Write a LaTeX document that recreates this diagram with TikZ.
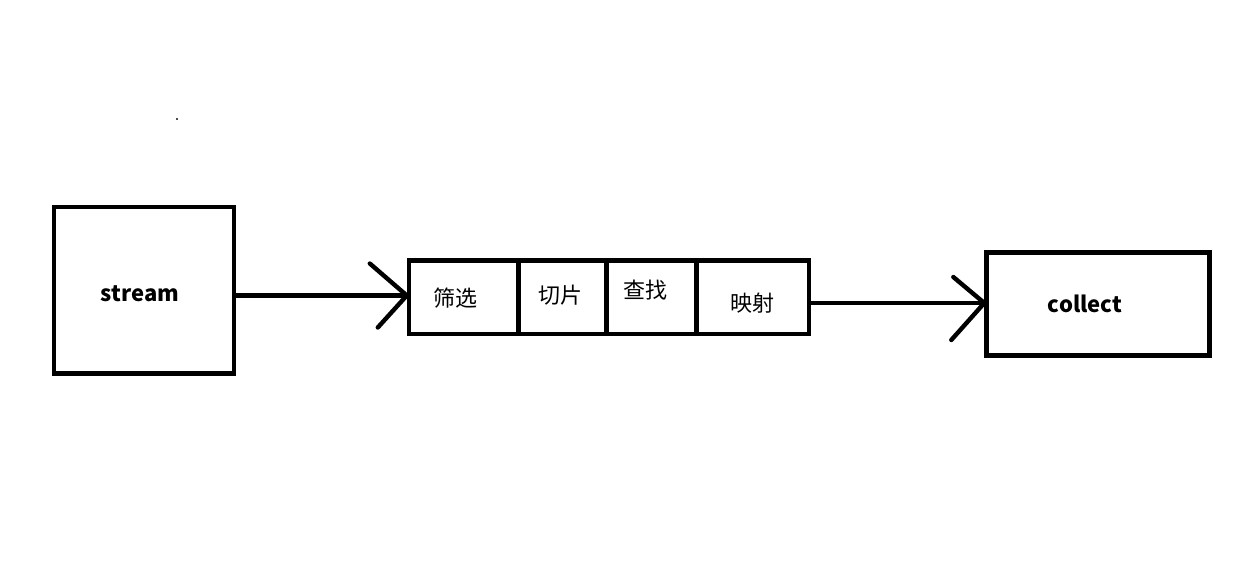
\documentclass[tikz,border=0pt]{standalone}
\usepackage{fontspec}
\newfontfamily\cjk{Noto Sans CJK SC}
\begin{document}
\begin{tikzpicture}[x=1pt,y=-1pt,
  box/.style={draw=black,line width=4.4pt,inner sep=0pt,fill=none},
  lbl/.style={font=\cjk\bfseries\fontsize{22}{25}\selectfont,inner sep=0pt},
  zh/.style={font=\cjk\fontsize{22}{25}\selectfont,inner sep=0pt},
  conn/.style={line width=4.4pt,line cap=round,line join=round}]
\useasboundingbox (0,0) rectangle (1250,583);
\fill[black!70] (176,118) rectangle (178,120);
% stream box
\node[box,minimum width=180pt,minimum height=166.5pt] (stream) at (144,290.25) {};
\node[lbl] (tstream) at (140,294) {stream};
% chain cells
\node[box,minimum width=109.5pt,minimum height=73.5pt] (c1) at (463.75,297.25) {};
\node[box,minimum width=88pt,minimum height=73.5pt] (c2) at (562.5,297.25) {};
\node[box,minimum width=90pt,minimum height=73.5pt] (c3) at (651.5,297.25) {};
\node[box,minimum width=112.5pt,minimum height=73.5pt] (c4) at (752.75,297.25) {};
\node[zh] (t1) at (455,298) {筛选};
\node[zh] (t2) at (560,295) {切片};
\node[zh] (t3) at (645,290) {查找};
\node[zh] (t4) at (752,303) {映射};
% collect box
\node[box,minimum width=223pt,minimum height=103pt] (collect) at (1098,304) {};
\node[lbl] (tcollect) at (1085,304) {collect};
% connectors
\draw[conn] (stream.east |- 0,295.5) -- (c1.west |- 0,295.5);
\draw[conn] (c1.west |- 0,295.5) ++(-37,-32) coordinate (a1) -- (c1.west |- 0,295.5) -- ++(-29,32) coordinate (a2);
\draw[conn] (c4.east |- 0,303) -- (collect.west |- 0,303);
\draw[conn] (collect.west |- 0,303) ++(-31,-26) coordinate (b1) -- (collect.west |- 0,303) -- ++(-33,37) coordinate (b2);
\end{tikzpicture}
\end{document}
